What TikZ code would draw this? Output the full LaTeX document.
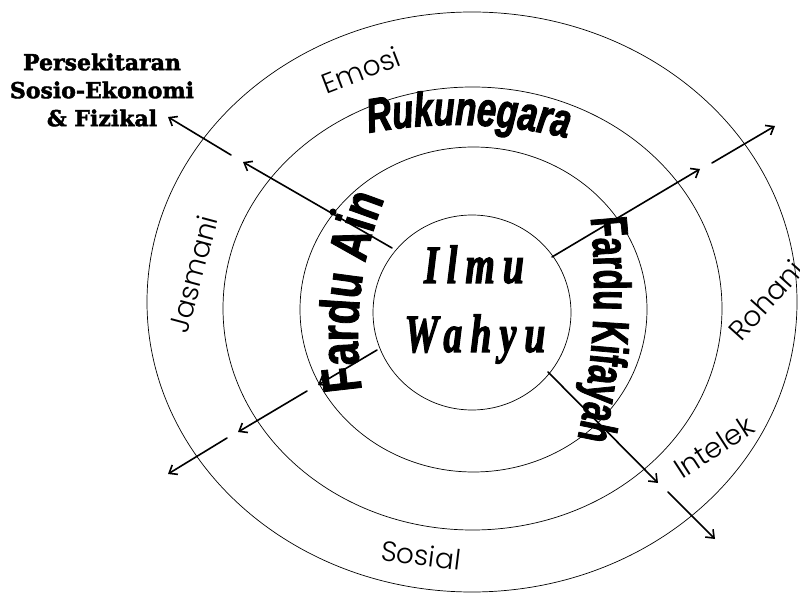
\documentclass[tikz,border=0pt]{standalone}
\usepackage{fontspec}
\usepackage{tikz}
\usetikzlibrary{calc, arrows.meta, decorations.text}
\usepackage{tkz-euclide}
\IfFontExistsTF{Poppins Light}{\newfontfamily\ringfont{Poppins Light}}{\newfontfamily\ringfont{Poppins}}
\newfontfamily\envfont{DejaVu Serif}[FakeBold=2]
\newfontfamily\rukufont{Liberation Sans}[FakeStretch=0.72, FakeBold=2]
\newfontfamily\ainfont{Liberation Sans}[FakeStretch=0.76, FakeBold=1.5]
\newfontfamily\kifayahfont{Liberation Sans}[FakeStretch=0.64, FakeBold=1.5]
\newfontfamily\wahyufont{Liberation Serif}[FakeStretch=0.7, LetterSpace=15, FakeBold=2]
\tikzset{
  ring/.style={line width=0.7pt},
  outarrow/.style={line width=1.6pt, -{Straight Barb[length=7pt, width=11pt]}},
  ringlabel/.style={font=\ringfont\fontsize{28}{30}\selectfont, inner sep=0pt},
  wahyu/.style={font=\wahyufont\bfseries\itshape\fontsize{54}{60}\selectfont, inner sep=0pt, anchor=base}
}
\begin{document}
\begin{tikzpicture}[x=1pt, y=1pt]
            \useasboundingbox (0,0) rectangle (800,592);
            \tkzDefPoints{472/279.5/O1, 473.5/282.5/O2, 472.5/283.5/O3, 472/290/O4}
            \tkzDefPoints{456/-10/R0, 724/256/F0, -111/305/K0, 333/380/X}
            \tkzDefPoints{392/344/A1, 243/430/A2, 231/437/A3, 168/475/A4}
            \tkzDefPoints{552/335/B1, 700/423/B2, 712/429/B3, 775/466/B4}
            \tkzDefPoints{377/242/C1, 318/207/C2, 307/201/C3, 238/160/C4, 227/154/C5, 168/118/C6}
            \tkzDefPoints{548/220/D1, 658/109/D2, 668/100/D3, 715/53/D4}
            \draw[ring] (O1) ellipse [x radius=99, y radius=97.5];
            \draw[ring] (O2) ellipse [x radius=173.5, y radius=162.5];
            \draw[ring] (O3) ellipse [x radius=249.5, y radius=221.5];
            \draw[ring] (O4) ellipse [x radius=325, y radius=290];
            \tkzDrawSegments[outarrow](A1,A2 A3,A4 B1,B2 B3,B4 C1,C2 C3,C4 C5,C6 D1,D2 D3,D4)
            \fill (X) circle (3.5);
            \path[decorate, decoration={text along path, text align=center,
                text={|\rukufont\bfseries\itshape\fontsize{48}{52}\selectfont|Rukunegara}}]
                ($(R0)+(103:477)$) arc[start angle=103, end angle=74, radius=477];
            \path[decorate, decoration={text along path, text align=center,
                text={|\ainfont\bfseries\fontsize{55}{60}\selectfont|Fardu Ain}}]
                ($(F0)+(193.25:366)$) arc[start angle=193.25, end angle=153.25, radius=366];
            \path[decorate, decoration={text along path, text align=center,
                text={|\kifayahfont\bfseries\fontsize{52}{56}\selectfont|Fardu Kifayah}}]
                ($(K0)+(7.6:705)$) arc[start angle=7.6, end angle=-14.4, radius=705];
            \node[wahyu] (ilmu) at (474,309) {Ilmu};
            \node[wahyu] (wahyu) at (475,240) {Wahyu};
            \node[ringlabel, rotate=21] (emosi) at (361,522) {Emosi};
            \node[ringlabel, rotate=75] (jasmani) at (193,318) {Jasmani};
            \node[ringlabel, rotate=48] (rohani) at (766,292) {Rohani};
            \node[ringlabel, rotate=33] (intelek) at (714,145) {Intelek};
            \node[ringlabel, rotate=-7] (sosial) at (421,37) {Sosial};
            \node[align=center, font=\envfont\bfseries\fontsize{22}{28}\selectfont] (env) at (102,502)
                {Persekitaran\\Sosio-Ekonomi\\\& Fizikal};
        \end{tikzpicture}
\end{document}
